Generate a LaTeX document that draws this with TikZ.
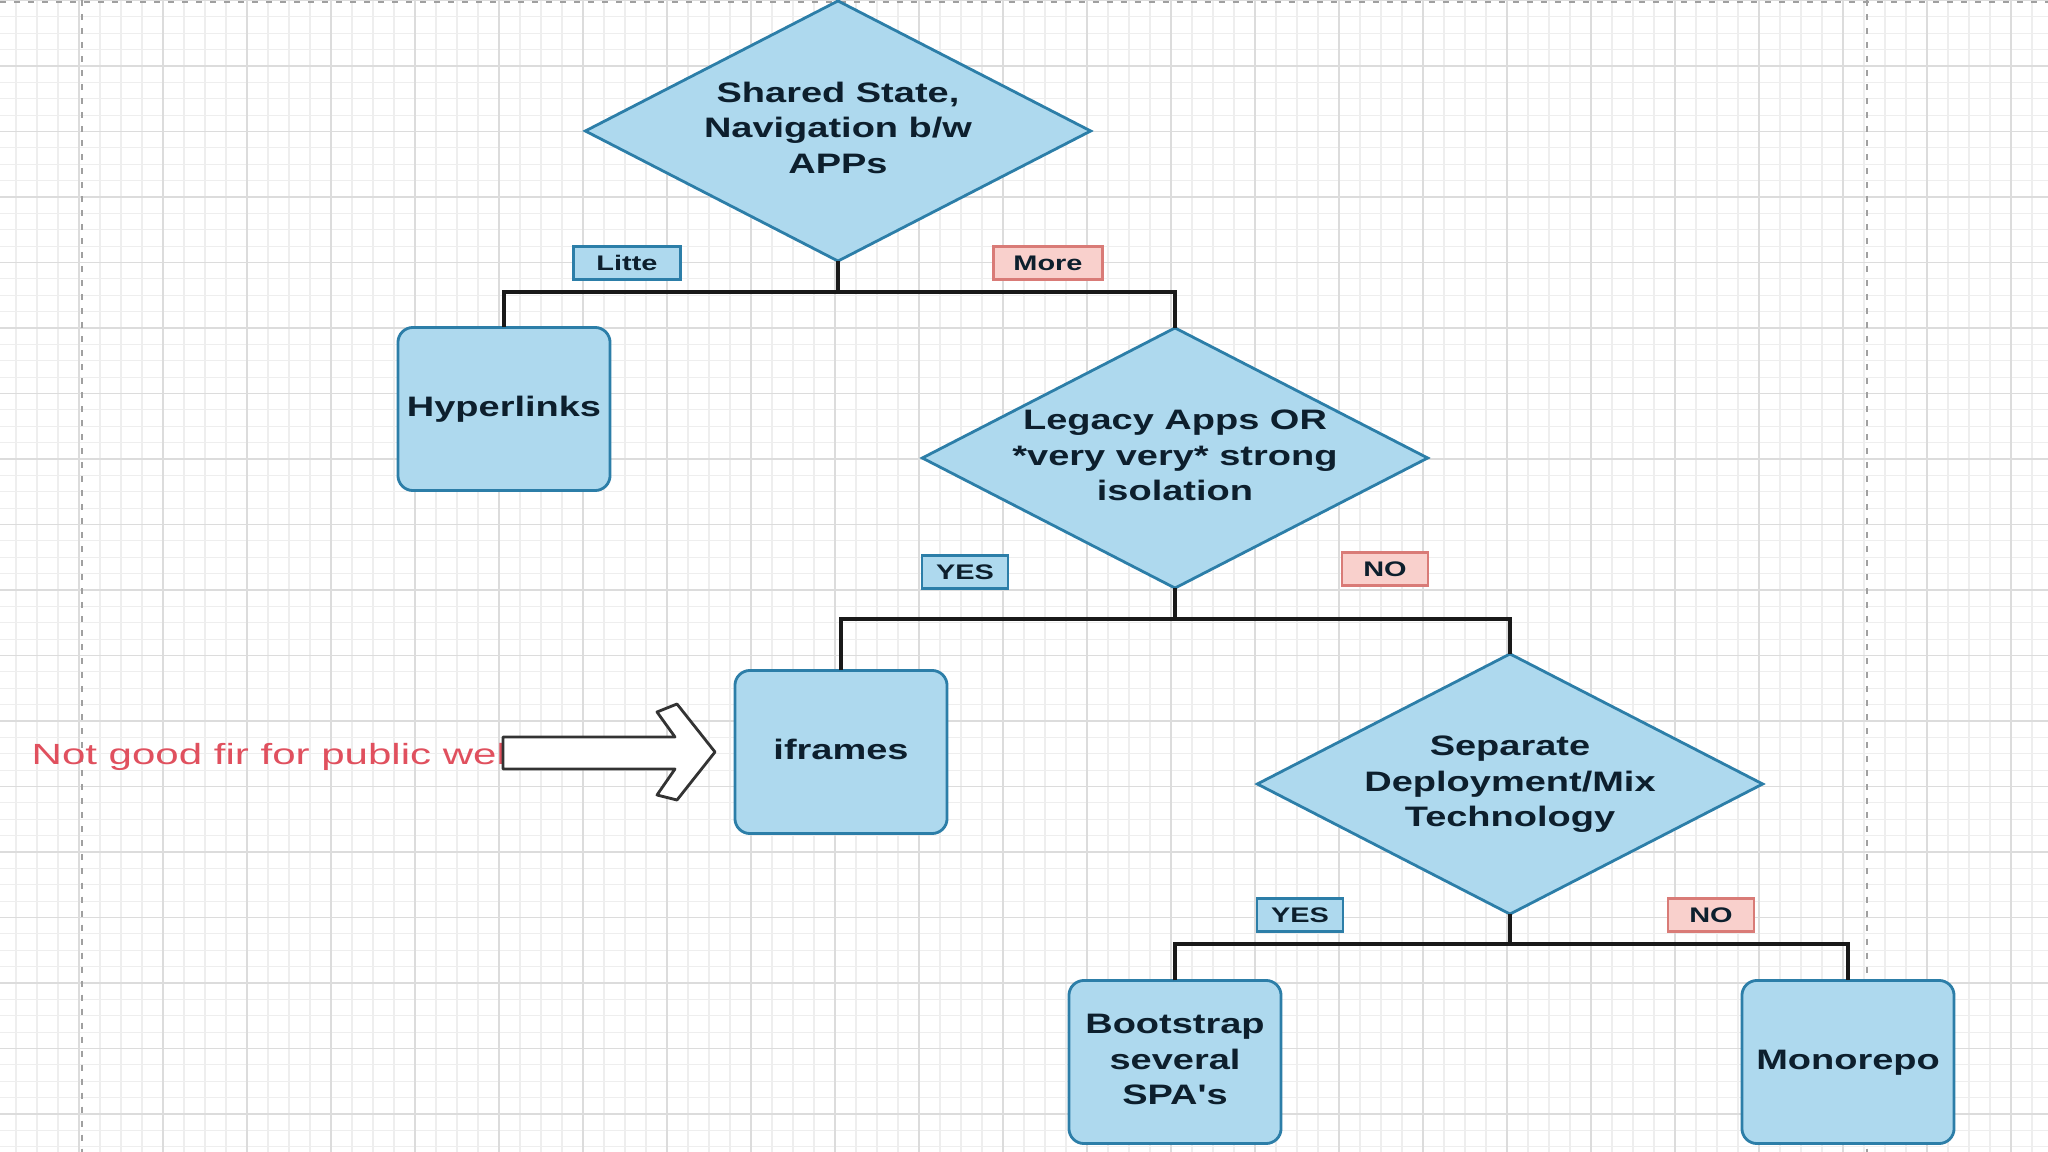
\documentclass[tikz,border=0pt]{standalone}
\usepackage{fontspec}
\setmainfont{Liberation Sans}[Ligatures=TeXOff]
\usepackage{graphicx}
\usetikzlibrary{shapes.geometric}
\definecolor{bfill}{HTML}{AED9EE}
\definecolor{bline}{HTML}{2C7EA8}
\definecolor{pfill}{HTML}{F9D0CC}
\definecolor{pline}{HTML}{D97B77}
\definecolor{ink}{HTML}{0D1F2D}
\definecolor{redink}{HTML}{E0505E}
\definecolor{gminor}{HTML}{EEEEEE}
\definecolor{gmajor}{HTML}{DCDCDC}
\definecolor{pageline}{HTML}{A0A0A0}
\newcommand{\mtxt}[1]{\scalebox{1.35}[1]{\begin{tabular}{@{}c@{}}#1\end{tabular}}}
\newcommand{\ltxt}[1]{\scalebox{1.37}[1]{#1}}
\tikzset{
  dia/.style={diamond, draw=bline, fill=bfill, line width=0.8pt, inner sep=0pt, outer sep=0pt,
    minimum width=5.05cm, minimum height=2.6cm},
  mtext/.style={text=ink, font=\fontsize{8}{9.96}\selectfont\bfseries, inner sep=0pt},
  rbox/.style={rectangle, rounded corners=0.15cm, draw=bline, fill=bfill, line width=0.8pt,
    minimum width=2.12cm, minimum height=1.63cm, inner sep=0pt, outer sep=0pt,
    text=ink, font=\fontsize{8}{9.96}\selectfont\bfseries},
  lbl/.style={rectangle, line width=0.6pt, minimum height=0.33cm, inner sep=0pt,
    text=ink, font=\fontsize{6}{7}\selectfont\bfseries},
  blbl/.style={lbl, draw=bline, fill=bfill},
  rlbl/.style={lbl, draw=pline, fill=pfill},
  conn/.style={draw=black!90, line width=1pt},
  minorline/.style={draw=gminor, line width=0.3pt},
  majorline/.style={draw=gmajor, line width=0.45pt},
  pagedash/.style={draw=pageline, line width=0.6pt, dash pattern=on 0.06cm off 0.08cm}
}
\begin{document}
\begin{tikzpicture}[x=0.01cm,y=-0.01cm]
\useasboundingbox (0,0) rectangle (2048,1152);
\fill[white] (0,0) rectangle (2048,1152);
\begin{scope}
\clip (0,0) rectangle (2048,1152);
\foreach \i in {0,...,97}{\draw[minorline] ({16+21*\i},0) -- ({16+21*\i},1152);}
\foreach \j in {0,...,70}{\draw[minorline] (0,{0.5+16.375*\j}) -- (2048,{0.5+16.375*\j});}
\foreach \i in {0,...,25}{\draw[majorline] ({-5+84*\i},0) -- ({-5+84*\i},1152);}
\foreach \j in {0,...,18}{\draw[majorline] (0,{0.5+65.5*\j}) -- (2048,{0.5+65.5*\j});}
\draw[pagedash] (82,0) -- (82,1152);
\draw[pagedash] (1867,0) -- (1867,1152);
\draw[pagedash] (0,2) -- (2048,2);
\end{scope}

% decision diamonds
\node[dia] (d1) at (838,131) {};
\node[mtext] (t1) at (d1.center) {\mtxt{Shared State,\\Navigation b/w\\APPs}};
\node[dia] (d2) at (1175,458) {};
\node[mtext] (t2) at (d2.center) {\mtxt{Legacy Apps OR\\\relax *very very* strong\\isolation}};
\node[dia] (d3) at (1510,784) {};
\node[mtext] (t3) at (d3.center) {\mtxt{Separate\\Deployment/Mix\\Technology}};

% result boxes
\node[rbox] (hyp) at (504,409) {\mtxt{Hyperlinks}};
\node[rbox] (ifr) at (841,752) {\mtxt{iframes}};
\node[rbox] (boot) at (1175,1062) {\mtxt{Bootstrap\\several\\SPA's}};
\node[rbox] (mono) at (1848,1062) {\mtxt{Monorepo}};

% connectors
\coordinate (j1) at (838,292);
\coordinate (j2) at (1175,619);
\coordinate (j3) at (1510,944);
\draw[conn] (d1.south) -- (j1);
\draw[conn] (hyp.north) |- (j1) -| (d2.north);
\draw[conn] (d2.south) -- (j2);
\draw[conn] (ifr.north) |- (j2) -| (d3.north);
\draw[conn] (d3.south) -- (j3);
\draw[conn] (boot.north) |- (j3) -| (mono.north);

% branch labels
\node[blbl, minimum width=1.07cm] (l1) at (627,263) {\ltxt{Litte}};
\node[rlbl, minimum width=1.09cm] (l2) at (1048,263) {\ltxt{More}};
\node[blbl, minimum width=0.86cm] (l3) at (965,572) {\ltxt{YES}};
\node[rlbl, minimum width=0.86cm] (l4) at (1385,569) {\ltxt{NO}};
\node[blbl, minimum width=0.86cm] (l5) at (1300,915) {\ltxt{YES}};
\node[rlbl, minimum width=0.86cm] (l6) at (1711,915) {\ltxt{NO}};

% note and block arrow
\node[font=\fontsize{8.3}{10}\selectfont, text=redink, anchor=base west, inner sep=0pt] (note) at (31,764)
  {\scalebox{1.44}[1]{Not good fir for public web}};
\draw[fill=white, draw=black!80, line width=0.8pt, line join=round]
  (503,737) -- (675,737) -- (657,712) -- (677,704) -- (715,752) -- (677,800)
  -- (657,795) -- (675,769) -- (503,769) -- cycle;
\end{tikzpicture}
\end{document}
